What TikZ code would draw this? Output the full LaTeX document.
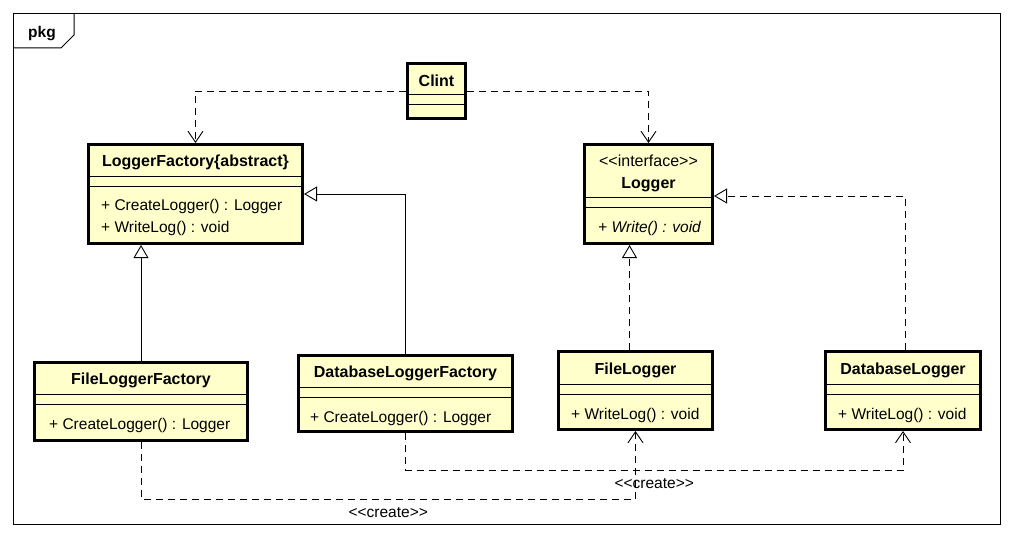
\documentclass[tikz,border=0pt]{standalone}
\usepackage{fontspec}
\newfontfamily\umlfont{Liberation Sans}
\usetikzlibrary{arrows.meta,calc}
\definecolor{umlyellow}{RGB}{255,255,204}
\tikzset{
  classbox/.style={
    draw=black,
    line width=3pt,
    fill=umlyellow,
    inner sep=0pt
  },
  divider/.style={line width=0.8pt},
  classname/.style={font=\fontsize{16}{22}\selectfont\bfseries, inner sep=0pt, align=center},
  member/.style={inner sep=0pt, anchor=west},
  dep/.style={
    line width=0.9pt,
    dash pattern=on 7pt off 5pt,
    -{Straight Barb[length=11pt, width=15pt]}
  },
  realize/.style={
    line width=0.9pt,
    dash pattern=on 7pt off 5pt,
    -{Triangle[open, length=13pt, width=15pt]}
  },
  inherit/.style={
    line width=0.9pt,
    -{Triangle[open, length=13pt, width=15pt]}
  }
}
\newcommand{\umlclass}[7]{%
  \node[classbox, minimum width=#4-3, minimum height=#5-3, anchor=north west]
    (#1) at (#2,#3) {};
  \node[classname] (#1-name) at ([yshift=-#6/2-3]#1.north) {#7};
  \draw[divider] ([yshift=-#6]#1.north west) -- ([yshift=-#6]#1.north east);
  \draw[divider] ([yshift=-#6-10]#1.north west) -- ([yshift=-#6-10]#1.north east);
}

\begin{document}
\umlfont\fontsize{15.5}{22}\selectfont
\begin{tikzpicture}[x=1pt, y=-1pt]
  \useasboundingbox[fill=white] (0,0) rectangle (1014,540);
  \node[draw, line width=1pt, inner sep=0pt, minimum width=987, minimum height=511,
    anchor=north west] (frame) at (13,13) {};
  \draw[line width=1pt] ($(frame.north west)+(0,35)$) -- ++(48,0) -- ++(13,-13)
    -- ($(frame.north west)+(61,0)$);
  \node[font=\bfseries, inner sep=0pt] (pkg) at (42,34) {pkg};

  \umlclass{clint}{406}{62}{61}{58}{32}{Clint}
  \umlclass{lf}{87}{143}{217}{102}{33}{LoggerFactory\{abstract\}}
  \umlclass{logger}{583}{143}{131}{102}{54}{{\mdseries <<interface>>}\\Logger}
  \umlclass{flf}{33}{361}{216}{81}{33}{FileLoggerFactory}
  \umlclass{dlf}{297}{354}{217}{79}{33}{DatabaseLoggerFactory}
  \umlclass{fl}{557}{350}{157}{81}{34}{FileLogger}
  \umlclass{dl}{824}{350}{158}{81}{34}{DatabaseLogger}

  \node[member] (lf-op1) at ([xshift=14,yshift=-63]lf.north west) {+ CreateLogger() : Logger};
  \node[member] (lf-op2) at ([xshift=14,yshift=-85]lf.north west) {+ WriteLog() : void};
  \node[member, font=\itshape] (logger-op1) at ([xshift=15,yshift=-85]logger.north west) {+ Write() : void};
  \node[member] (flf-op1) at ([xshift=16,yshift=-64]flf.north west) {+ CreateLogger() : Logger};
  \node[member] (dlf-op1) at ([xshift=13,yshift=-64]dlf.north west) {+ CreateLogger() : Logger};
  \node[member] (fl-op1) at ([xshift=14,yshift=-65]fl.north west) {+ WriteLog() : void};
  \node[member] (dl-op1) at ([xshift=14,yshift=-65]dl.north west) {+ WriteLog() : void};

  \draw[dep] (clint.west) -| (lf.north);
  \draw[dep] (clint.east) -| (logger.north);
  \draw[inherit] (flf.north) -- (flf.north |- lf.south);
  \draw[inherit] (dlf.north) |- (lf.east);
  \draw[realize] ([xshift=-6]fl.north) -- ([xshift=-6]fl.north |- logger.south);
  \draw[realize] ([xshift=2]dl.north) |- ([yshift=-2]logger.east);
  \draw[dep] (flf.south) -- ++(0,57) -| node[pos=0.25, below=3pt] (create1) {<<create>>} (fl.south);
  \draw[dep] (dlf.south) -- ++(0,37) -| node[pos=0.25, below=3pt] (create2) {<<create>>} (dl.south);
\end{tikzpicture}
\end{document}
